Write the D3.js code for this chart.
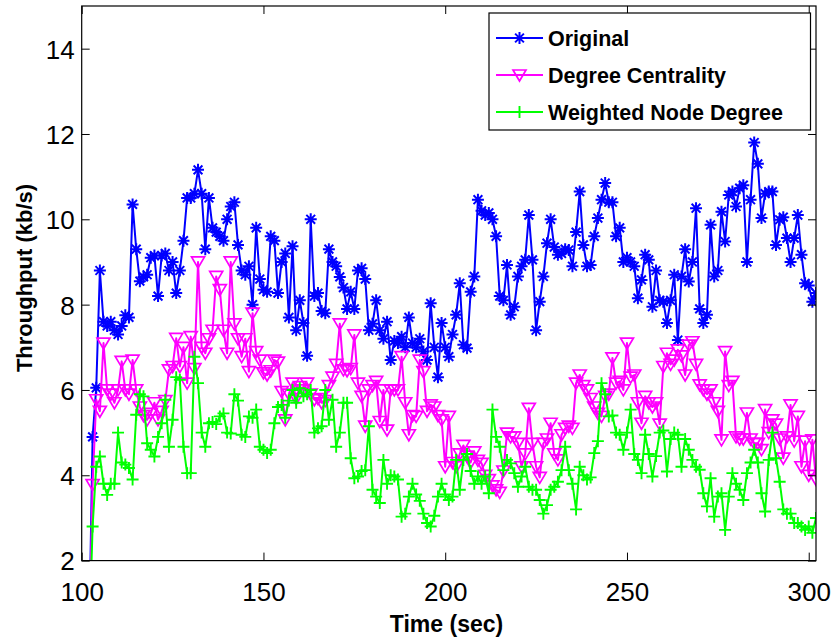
<!DOCTYPE html>
<html><head><meta charset="utf-8">
<script src="https://cdn.jsdelivr.net/npm/d3@7"></script>
<style>
html,body{margin:0;padding:0;background:#fff;}
svg{display:block;}
text{font-family:"Liberation Sans",Arial,Helvetica,sans-serif;}
</style></head><body>
<svg id="chart" width="836" height="640"></svg>
<script>
// ---- data ----
const timeStart = 102;
const original = [
0,4.9,6.05,8.8,7.6,7.5,7.6,7.4,7.3,7.5,7.75,7.7,10.35,9.3,8.55,8.65,8.7,9.1,9.15,8.2,9.15,9.2,8.8,9.0,8.27,8.8,9.5,10.5,
10.5,10.6,11.16,10.6,9.3,10.5,9.8,9.7,9.6,9.5,10.0,10.3,10.4,9.4,8.8,8.7,8.9,8.0,9.8,8.6,8.35,8.3,9.6,9.5,8.27,9.0,9.2,7.7,9.37,7.4,8.1,7.57,6.8,10.0,8.2,
8.27,7.85,7.8,9.3,9.0,8.9,8.65,8.4,7.9,8.3,7.9,8.8,8.85,8.6,7.4,7.55,8.1,7.4,7.2,7.6,6.7,7.15,7.1,7.25,7.0,7.7,7.1,7.0,7.2,6.9,6.7,8.03,7.0,6.3,7.57,7.0,
6.78,7.3,7.76,8.5,7.06,6.98,8.3,8.66,10.46,10.2,10.1,10.15,10.0,9.6,8.2,8.1,8.93,7.76,7.95,8.66,8.9,9.05,10.1,9.05,7.4,8.07,8.66,9.44,10.0,9.35,9.17,9.2,9.3,9.28,8.9,9.7,
10.65,9.4,8.9,8.93,9.6,10.03,10.46,10.85,10.4,10.4,9.6,9.8,9.0,9.1,9.0,8.9,8.15,8.58,9.17,9.05,7.95,8.8,8.1,8.07,7.57,8.1,8.7,7.17,8.66,9.3,8.54,9.0,10.26,7.9,
7.57,7.76,9.87,8.66,8.8,10.18,9.48,10.57,10.65,10.3,10.73,10.8,9.0,10.46,11.8,11.3,10.03,10.6,10.65,10.65,9.4,9.99,10.05,9.56,9.0,9.56,10.1,9.17,8.5,8.45,8.07,8.27
];
const degreeCentrality = [
0,3.78,5.77,5.5,7.1,6.0,5.9,5.7,6.0,6.67,6.0,5.9,6.7,6.0,5.6,5.4,5.3,5.45,5.7,5.3,5.5,5.75,6.47,6.55,7.21,6.55,7.0,6.16,
7.25,6.5,9.0,7.0,6.86,7.2,7.4,8.66,8.35,7.4,6.86,9.0,7.55,7.2,6.78,7.2,6.43,7.8,6.9,6.7,6.4,6.35,6.45,6.7,6.65,5.96,5.3,5.9,6.16,5.8,6.08,6.0,6.16,5.9,5.77,5.8,
5.7,5.75,6.1,6.3,6.6,7.55,6.47,6.45,6.5,7.29,6.16,5.85,5.15,6.0,6.1,6.2,5.26,6.0,5.06,6.0,6.0,6.0,6.78,5.7,4.95,5.4,5.38,6.7,6.43,5.5,5.65,5.6,5.4,5.3,4.2,
5.38,4.3,4.2,4.5,4.7,4.45,4.3,4.55,4.35,4.28,4.0,3.9,3.75,3.66,3.6,4.1,4.99,4.9,4.9,4.75,4.2,4.5,5.57,4.75,4.2,3.95,4.75,4.85,5.22,4.5,4.36,4.95,5.1,5.15,5.1,6.16,
6.35,6.1,6.0,5.8,5.6,5.45,5.38,5.85,5.9,6.75,6.16,6.2,6.0,7.1,6.3,6.35,5.7,5.22,5.85,5.7,5.6,5.7,5.2,6.55,6.86,6.6,6.7,6.94,6.8,6.35,7.05,7.13,6.6,6.12,
6.0,5.9,6.0,5.7,5.5,4.83,6.9,6.1,6.2,4.9,4.85,4.85,5.46,4.85,4.75,4.75,4.6,5.54,5.0,5.3,5.2,4.85,4.4,4.9,5.65,4.8,5.38,4.2,4.8,4.0,4.83,3.9
];
const weightedNodeDegree = [
0,2.8,4.2,4.44,3.8,3.54,3.8,3.8,5.0,4.3,4.25,4.17,3.9,5.42,5.9,5.85,4.75,4.6,4.44,4.9,5.22,5.77,4.67,5.3,6.3,6.24,4.67,4.05,
4.05,6.78,6.16,5.0,4.67,5.22,5.25,5.2,5.38,5.45,5.0,4.98,5.9,5.75,4.95,4.9,5.38,5.35,5.54,4.67,4.6,4.52,4.6,5.22,5.6,5.65,5.35,5.75,6.0,5.7,6.04,5.85,5.9,6.0,5.0,5.1,
5.15,6.0,5.3,5.77,4.67,5.0,5.7,5.7,4.4,3.93,3.97,4.1,4.12,5.15,3.66,3.5,3.35,4.36,3.8,4.0,3.97,3.9,3.03,3.1,3.5,3.8,3.55,3.4,3.1,2.88,2.8,3.05,3.5,3.8,3.55,
3.42,3.5,4.36,3.66,4.36,4.5,4.1,3.8,3.97,3.8,3.97,3.58,5.54,4.9,4.67,4.12,4.36,4.28,4.05,3.73,3.97,4.2,3.73,3.66,3.66,3.42,3.1,3.3,3.66,3.73,3.85,4.12,4.67,4.12,3.8,3.2,
4.2,4.0,3.9,3.95,4.52,4.8,6.16,5.9,5.38,5.4,5.0,4.95,4.6,5.0,5.54,4.5,4.36,4.05,4.95,4.5,3.97,4.45,5.0,5.05,4.09,4.85,5.0,4.95,4.2,4.85,4.6,4.36,4.2,4.13,
3.58,3.27,3.93,3.03,3.5,3.58,2.72,3.5,4.05,3.8,3.66,3.42,4.05,4.3,4.6,4.3,3.58,3.15,4.36,5.0,4.4,3.85,3.2,3.1,3.1,2.88,2.88,2.8,2.72,2.8,2.65,3.0
];
const seriesNames = ["Original","Degree Centrality","Weighted Node Degree"];
const seriesColors = ["#0000ff","#ff00ff","#00ff00"];
const seriesMarkers = ["star","triangle","plus"];
const xTicks = [100,150,200,250,300];
const yTicks = [2,4,6,8,10,12,14];
const xLabel = "Time (sec)";
const yLabel = "Throughput (kb/s)";

// ---- layout ----
const svg = d3.select("#chart");
const L = 81.7, R = 816, T = 6, B = 560.6;
const x = d3.scaleLinear().domain([100,302]).range([L,R]);
const y = d3.scaleLinear().domain([2,15]).range([B,T]);

svg.append("rect").attr("width",836).attr("height",640).attr("fill","#fff");

svg.append("defs").append("clipPath").attr("id","clip")
  .append("rect").attr("x",L).attr("y",T).attr("width",R-L).attr("height",B-T);

const allSeries = [original, degreeCentrality, weightedNodeDegree].map((vals,i)=>({
  name: seriesNames[i], color: seriesColors[i], marker: seriesMarkers[i],
  points: vals.map((v,j)=>({t: timeStart+j, v}))
}));

function markerPath(type){
  if(type==="star"){
    const a=6, d=4.4;
    return `M${-a},0L${a},0M0,${-a}L0,${a}M${-d},${-d}L${d},${d}M${-d},${d}L${d},${-d}`;
  }
  if(type==="triangle"){
    return "M-6.5,-5L6.5,-5L0,6Z";
  }
  return "M-6,0L6,0M0,-6L0,6";
}
const markerWidth = {star:2, triangle:1.7, plus:1.9};

const plot = svg.append("g").attr("clip-path","url(#clip)");
const line = d3.line().x(d=>x(d.t)).y(d=>y(d.v));
allSeries.forEach(s=>{
  const g = plot.append("g");
  g.append("path").attr("d",line(s.points)).attr("fill","none")
    .attr("stroke",s.color).attr("stroke-width",2).attr("stroke-linejoin","round");
  g.selectAll("path.m").data(s.points).enter().append("path").attr("class","m")
    .attr("transform",d=>`translate(${x(d.t)},${y(d.v)})`)
    .attr("d",markerPath(s.marker)).attr("fill","none")
    .attr("stroke",s.color).attr("stroke-width",markerWidth[s.marker]);
});

// ---- axes (MATLAB style, ticks inside, box) ----
const axisG = svg.append("g");
const xAxB = axisG.append("g").attr("transform",`translate(0,${B})`)
  .call(d3.axisBottom(x).tickValues(xTicks).tickSize(-8).tickPadding(14).tickSizeOuter(0));
const xAxT = axisG.append("g").attr("transform",`translate(0,${T})`)
  .call(d3.axisTop(x).tickValues(xTicks).tickSize(-8).tickFormat("").tickSizeOuter(0));
const yAxL = axisG.append("g").attr("transform",`translate(${L},0)`)
  .call(d3.axisLeft(y).tickValues(yTicks).tickSize(-8).tickPadding(14).tickSizeOuter(0));
const yAxR = axisG.append("g").attr("transform",`translate(${R},0)`)
  .call(d3.axisRight(y).tickValues(yTicks).tickSize(-8).tickFormat("").tickSizeOuter(0));
axisG.selectAll(".domain").remove();
axisG.selectAll(".tick line").attr("stroke","#000").attr("stroke-width",1);
axisG.selectAll(".tick text").attr("fill","#000").style("font-size","26px")
  .style("font-family",'"Liberation Sans",Arial,sans-serif');
xAxB.selectAll(".tick text").attr("dy","0.71em").attr("y",21.5);
yAxL.selectAll(".tick text").attr("x",-7).attr("dy","0.36em");
axisG.append("rect").attr("x",L).attr("y",T).attr("width",R-L).attr("height",B-T)
  .attr("fill","none").attr("stroke","#000").attr("stroke-width",1.2);

svg.append("text").attr("x",446.5).attr("y",632).attr("text-anchor","middle")
  .style("font-size","23px").style("font-weight","bold").text(xLabel);
svg.append("text").attr("transform","translate(32,278) rotate(-90)").attr("text-anchor","middle")
  .style("font-size","22px").style("font-weight","bold").text(yLabel);

// ---- legend ----
const lg = svg.append("g");
lg.append("rect").attr("x",489).attr("y",13).attr("width",321.5).attr("height",117)
  .attr("fill","#fff").attr("stroke","#000").attr("stroke-width",1.2);
allSeries.forEach((s,i)=>{
  const yy = 38 + i*37;
  lg.append("line").attr("x1",496).attr("x2",543).attr("y1",yy).attr("y2",yy)
    .attr("stroke",s.color).attr("stroke-width",2);
  lg.append("path").attr("transform",`translate(519.5,${yy})`).attr("d",markerPath(s.marker))
    .attr("fill","none").attr("stroke",s.color).attr("stroke-width",markerWidth[s.marker]);
  lg.append("text").attr("x",548).attr("y",yy).attr("dy","0.36em")
    .style("font-size","21.5px").style("font-weight","bold").text(s.name);
});
</script>
</body></html>
